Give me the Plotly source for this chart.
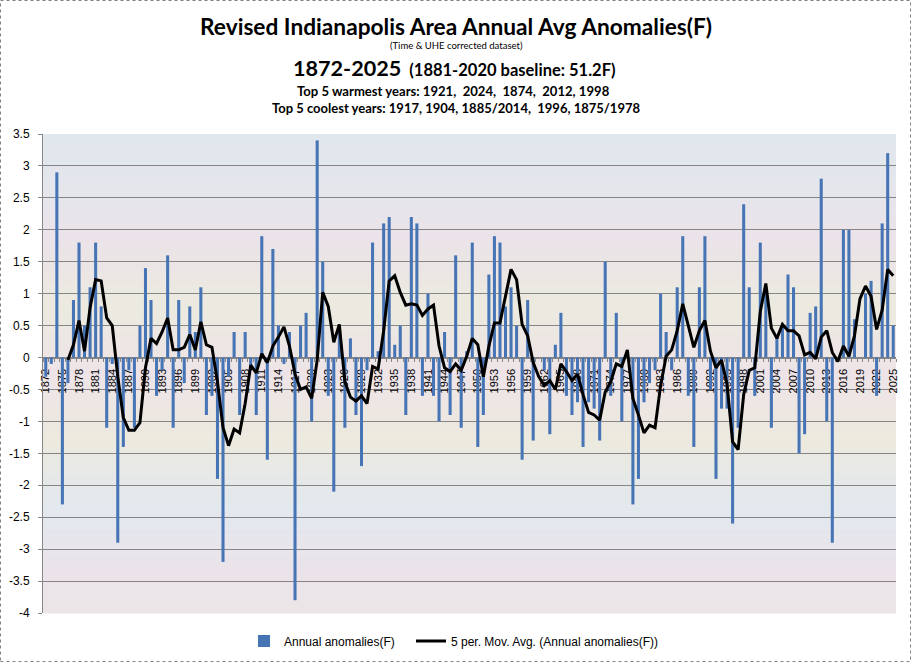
import plotly.graph_objects as go
import pandas as pd

# ---------------- data ----------------
years = list(range(1872, 2026))
anomalies = [
    -0.3, -0.1, 2.9, -2.3, -0.4, 0.9, 1.8, 0.5,                      # 1872-1879
    1.1, 1.8, 0.8, -1.1, -0.1, -2.9, -1.4, -0.2, -1.1, 0.5,           # 1880s
    1.4, 0.9, -0.6, -0.2, 1.6, -1.1, 0.9, -0.4, 0.8, 0.4,             # 1890s
    1.1, -0.9, -0.6, -1.9, -3.2, -0.3, 0.4, -0.9, 0.4, -0.2,          # 1900s
    -0.9, 1.9, -1.6, 1.7, 0.5, -0.1, 0.4, -3.8, 0.5, 0.7,             # 1910s
    -1.0, 3.4, 1.5, -0.6, -2.1, 0.4, -1.1, 0.3, -0.9, -1.7,           # 1920s
    -0.2, 1.8, 0.1, 2.1, 2.2, 0.2, 0.5, -0.9, 2.2, 2.1,               # 1930s
    -0.6, 1.0, -0.6, -1.0, 0.4, -0.9, 1.6, -1.1, 0.1, 1.8,            # 1940s
    -1.4, -0.9, 1.3, 1.9, 1.8, 0.8, 1.1, 0.5, -1.6, 0.9,              # 1950s
    -1.3, 0.0, -0.2, -1.2, 0.2, 0.7, -0.6, -0.9, -0.7, -1.4,          # 1960s
    -0.7, -0.8, -1.3, 1.5, -0.6, 0.7, -1.0, 0.0, -2.3, -1.9,          # 1970s
    -0.7, -0.4, -0.2, 1.0, 0.4, -0.2, 1.1, 1.9, -0.6, -1.4,           # 1980s
    1.1, 1.9, -0.5, -1.9, -0.8, -0.8, -2.6, -1.1, 2.4, 1.1,           # 1990s
    -0.6, 1.8, 1.1, -1.1, 0.3, 0.5, 1.3, 1.1, -1.5, -1.2,             # 2000s
    0.7, 0.8, 2.8, -1.0, -2.9, 0.0, 2.0, 2.0, 0.6, 0.0,               # 2010s
    1.0, 1.2, -0.6, 2.1, 3.2, 0.5,                                    # 2020-2025
]
x_tick_years = years[::3]
x_tick_labels = [str(y) for y in x_tick_years]
y_tick_vals = [3.5, 3, 2.5, 2, 1.5, 1, 0.5, 0, -0.5, -1, -1.5, -2, -2.5, -3, -3.5, -4]
y_tick_labels = ["3.5", "3", "2.5", "2", "1.5", "1", "0.5", "0", "-0.5", "-1", "-1.5",
                 "-2", "-2.5", "-3", "-3.5", "-4"]

title_main = "Revised Indianapolis Area Annual Avg Anomalies(F)"
title_sub = "(Time & UHE corrected dataset)"
title_period = "1872-2025"
title_base = "(1881-2020 baseline: 51.2F)"
title_warm = "Top 5 warmest years: 1921,\u00a0 2024,\u00a0 1874,\u00a0 2012, 1998"
title_cool = "Top 5 coolest years: 1917, 1904, 1885/2014,\u00a0 1996, 1875/1978"
bar_name = "Annual anomalies(F)"
ma_name = "5 per. Mov. Avg. (Annual anomalies(F))"

# 5-period moving average trendline (as the spreadsheet computes it)
mov_avg = pd.Series(anomalies).rolling(5).mean().tolist()

# ---------------- layout geometry ----------------
W, H = 911, 662
ML, MR, MT, MB = 43, 15, 134, 49
PW, PH = W - ML - MR, H - MT - MB


def pyy(px):
    return (H - MB - px) / PH


def pxx(px):
    return (px - ML) / PW


fig = go.Figure()
fig.add_trace(go.Bar(x=years, y=anomalies, name=bar_name, legend="legend",
                     marker=dict(color="#4674b5", line=dict(width=0))))
fig.add_trace(go.Scatter(x=years, y=mov_avg, name=ma_name, mode="lines", legend="legend2",
                         line=dict(color="black", width=3)))

# pastel banded background of the plot area
stops = [(0.00, (0xe0, 0xe7, 0xed)), (0.12, (0xe4, 0xe6, 0xec)), (0.22, (0xeb, 0xe3, 0xe9)),
         (0.36, (0xec, 0xea, 0xdf)), (0.50, (0xee, 0xe4, 0xe8)), (0.64, (0xec, 0xe9, 0xde)),
         (0.78, (0xe2, 0xe8, 0xee)), (0.92, (0xeb, 0xe3, 0xe9)), (1.00, (0xeb, 0xe5, 0xe8))]


def col_at(t):
    for (t0, c0), (t1, c1) in zip(stops[:-1], stops[1:]):
        if t0 <= t <= t1:
            f = (t - t0) / (t1 - t0) if t1 > t0 else 0
            return "rgb(%d,%d,%d)" % tuple(round(a + (b - a) * f) for a, b in zip(c0, c1))
    return "rgb(%d,%d,%d)" % stops[-1][1]


shapes = []
N = 80
for k in range(N):
    t = (k + 0.5) / N
    shapes.append(dict(type="rect", xref="paper", yref="paper", x0=0, x1=1,
                       y0=1 - (k + 1) / N - 0.001, y1=1 - k / N,
                       fillcolor=col_at(t), line=dict(width=0), layer="below"))
# outer chart border
shapes.append(dict(type="rect", xref="paper", yref="paper",
                   x0=pxx(0.5), x1=pxx(W - 0.5), y0=pyy(H - 0.5), y1=pyy(0.5),
                   line=dict(color="#7f7f7f", width=1, dash="dot"), fillcolor="rgba(0,0,0,0)",
                   layer="above"))

tf = "Lato, Liberation Sans, sans-serif"
cx = pxx(456)
annotations = [
    dict(text="<b>%s</b>" % title_main, x=cx, y=pyy(26), font=dict(size=22.7, family=tf)),
    dict(text=title_sub, x=cx, y=pyy(46), font=dict(size=9.5, family=tf)),
    dict(text="<b><span style='font-size:21.6px'>%s</span>\u00a0 <span style='font-size:16.5px'>%s</span></b>"
              % (title_period, title_base), x=pxx(454), y=pyy(68), font=dict(size=16.5, family=tf)),
    dict(text="<b>%s</b>" % title_warm, x=pxx(453), y=pyy(91), font=dict(size=13.1, family=tf)),
    dict(text="<b>%s</b>" % title_cool, x=pxx(456), y=pyy(108), font=dict(size=13, family=tf)),
]
for a in annotations:
    a.update(xref="paper", yref="paper", showarrow=False, xanchor="center", yanchor="middle")
    a["font"]["color"] = "black"

legend_font = dict(family="Liberation Sans, Arial, sans-serif", size=12, color="black")
fig.update_layout(
    width=W, height=H,
    margin=dict(l=ML, r=MR, t=MT, b=MB, pad=0, autoexpand=False),
    paper_bgcolor="white", plot_bgcolor="rgba(0,0,0,0)",
    bargap=0.45,
    showlegend=True,
    legend=dict(orientation="h", x=pxx(244), xanchor="left", y=pyy(641), yanchor="middle",
                font=legend_font, bgcolor="rgba(0,0,0,0)", itemwidth=30),
    legend2=dict(orientation="h", x=pxx(411), xanchor="left", y=pyy(641), yanchor="middle",
                 font=legend_font, bgcolor="rgba(0,0,0,0)", itemwidth=30),
    shapes=shapes,
    annotations=annotations,
    xaxis=dict(range=[1871.5, 2025.5], anchor="free", position=4 / 7.5, automargin=False,
               tickmode="array", tickvals=x_tick_years, ticktext=x_tick_labels,
               tickangle=-90, ticks="", ticklabelstandoff=6,
               tickfont=dict(family="Liberation Sans, Arial, sans-serif", size=11, color="black"),
               showline=True, linecolor="#868686", linewidth=1, showgrid=False, zeroline=False,
               minor=dict(tickmode="linear", tick0=1871.5, dtick=1, ticks="outside", ticklen=3,
                          tickcolor="#868686", showgrid=False),
               layer="below traces"),
    yaxis=dict(range=[-4, 3.5], tickmode="array", tickvals=y_tick_vals, ticktext=y_tick_labels,
               automargin=False,
               showgrid=True, gridcolor="#868686", gridwidth=1, zeroline=False,
               showline=True, linecolor="#868686", ticks="outside", ticklen=4,
               tickcolor="#868686", ticklabelstandoff=6,
               tickfont=dict(family="Liberation Sans, Arial, sans-serif", size=12, color="black")),
)

fig.write_html("out.html", config={"displayModeBar": False},
               post_script="document.body.style.margin='0';document.body.style.overflow='hidden';")
